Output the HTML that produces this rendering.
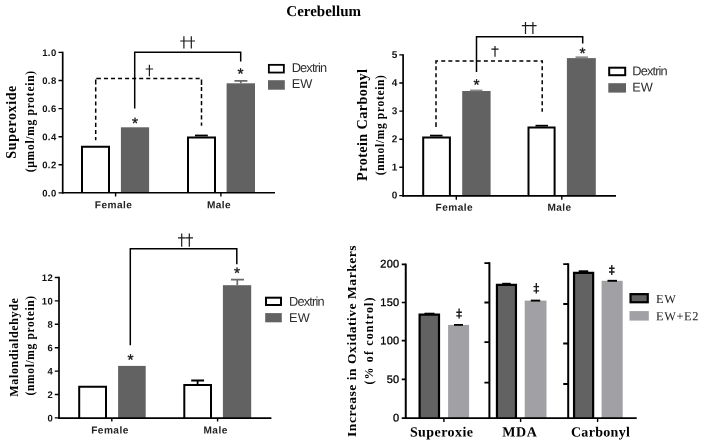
<!DOCTYPE html>
<html>
<head>
<meta charset="utf-8">
<title>Cerebellum</title>
<style>
  html, body { margin: 0; padding: 0; background: #ffffff; }
  body { width: 704px; height: 446px; overflow: hidden; font-family: "Liberation Sans", sans-serif; }
  svg { display: block; will-change: transform; }
  .sans  { font-family: "Liberation Sans", sans-serif; }
  .serif { font-family: "Liberation Serif", serif; }
  .tick  { font-family: "Liberation Sans", sans-serif; font-weight: bold; font-size: 9.5px; fill: #111; letter-spacing: 0.4px; }
  .cat   { font-family: "Liberation Sans", sans-serif; font-weight: bold; font-size: 10.1px; fill: #222; letter-spacing: 0.45px; }
  .leg   { font-family: "Liberation Sans", sans-serif; font-size: 12.8px; fill: #2e2e2e; }
  .dag   { font-family: "Liberation Sans", sans-serif; font-size: 12.5px; fill: #111; }
  .star  { font-family: "Liberation Sans", sans-serif; font-size: 15.5px; fill: #111; stroke: #111; stroke-width: 0.3; }
  .dg    { stroke: #1a1a1a; stroke-width: 1.2; fill: none; }
  .ylab  { font-family: "Liberation Serif", serif; font-weight: bold; fill: #000; }
  .ax    { stroke: #000; stroke-width: 1.7; fill: none; }
  .tk    { stroke: #000; stroke-width: 1.4; fill: none; }
  .wb    { fill: #fff; stroke: #000; stroke-width: 2; }
  .gb    { fill: #626262; stroke: none; }
  .db    { fill: #626262; stroke: #000; stroke-width: 2.2; }
  .lb    { fill: #a1a1a5; stroke: none; }
  .t4    { font-family: "Liberation Sans", sans-serif; font-size: 11px; fill: #000; letter-spacing: 0.2px; stroke: #000; stroke-width: 0.3px; }
  .sol   { stroke: #000; stroke-width: 1.5; fill: none; }
  .dsh   { stroke: #000; stroke-width: 1.3; fill: none; stroke-dasharray: 3.3 2.2; }
  .dsx   { stroke: #000; stroke-width: 1.5; fill: none; }
  .eb    { stroke: #000; stroke-width: 1.4; fill: none; }
  .ebg   { stroke: #6a6a6a; stroke-width: 1.7; fill: none; }
</style>
</head>
<body>
<svg width="704" height="446" viewBox="0 0 704 446">
  <rect x="0" y="0" width="704" height="446" fill="#ffffff"/>

  <!-- ===== Title ===== -->
  <text class="serif" x="323.7" y="16.1" text-anchor="middle" font-weight="bold" style="fill:#000;font-size:15px" transform="rotate(0.03 323.7 16.1)">Cerebellum</text>

  <!-- ===== Panel 1 : Superoxide ===== -->
  <g id="p1">
    <text class="ylab" text-anchor="middle" textLength="73" lengthAdjust="spacing" transform="translate(15.8,122.2) rotate(-90)" style="font-size:14px">Superoxide</text>
    <text class="ylab" text-anchor="middle" textLength="101.5" lengthAdjust="spacing" transform="translate(34.2,121.6) rotate(-90)" style="font-size:11.5px">(µmol/mg protein)</text>
    <!-- axes -->
    <text class="tick" x="56.6" y="55.9" text-anchor="end" transform="rotate(0.03 56.6 55.9)">1.0</text>
    <text class="tick" x="56.6" y="84" text-anchor="end" transform="rotate(0.03 56.6 84)">0.8</text>
    <text class="tick" x="56.6" y="112.1" text-anchor="end" transform="rotate(0.03 56.6 112.1)">0.6</text>
    <text class="tick" x="56.6" y="140.2" text-anchor="end" transform="rotate(0.03 56.6 140.2)">0.4</text>
    <text class="tick" x="56.6" y="168.3" text-anchor="end" transform="rotate(0.03 56.6 168.3)">0.2</text>
    <text class="tick" x="56.6" y="196.4" text-anchor="end" transform="rotate(0.03 56.6 196.4)">0.0</text>
    <text class="cat" x="113.6" y="208.2" text-anchor="middle" transform="rotate(0.03 113.6 208.2)">Female</text>
    <text class="cat" x="219" y="208.2" text-anchor="middle" transform="rotate(0.03 219 208.2)">Male</text>
    <!-- bars -->
    <rect class="gb" x="120.9" y="127.3" width="28.2" height="65.6"/>
    <rect class="gb" x="226.6" y="83.3" width="28.4" height="109.6"/>
    <path class="ebg" d="M240.8,83.3 V80.8 M234.4,80.8 H247.4"/>
    <path class="wb" d="M82,192.9 V146.8 H109 V192.9"/>
    <path class="wb" d="M188,192.9 V137.4 H215 V192.9"/>
    <path class="eb" d="M195,135.5 H207.8" style="stroke-width:1.8"/>
    <!-- brackets -->
    <path class="sol" d="M134.7,108.4 V52.2 H240.7 V61.5"/>
    <path class="dsx" d="M96.30,78.5 H100.90 M103.95,78.5 H107.95 M111.00,78.5 H115.00 M118.05,78.5 H122.05 M125.10,78.5 H129.10 M132.15,78.5 H136.15 M139.20,78.5 H143.20 M146.25,78.5 H150.25 M153.30,78.5 H157.30 M160.35,78.5 H164.35 M167.40,78.5 H171.40 M174.45,78.5 H178.45 M181.50,78.5 H185.50 M188.55,78.5 H192.55 M195.60,78.5 H199.60 M201.5,79.50 V85.00 M201.5,86.90 V91.10 M201.5,94.00 V98.20 M201.5,101.10 V105.30 M201.5,108.20 V112.40 M201.5,115.30 V119.50 M201.5,122.40 V125.70 M95.7,79.40 V84.40 M95.7,87.30 V91.40 M95.7,94.40 V98.50 M95.7,101.50 V105.60 M95.7,108.60 V112.70 M95.7,115.70 V119.80 M95.7,122.80 V126.90 M95.7,129.90 V134.00 M95.7,137.00 V140.30"/>
    <path class="dg" d="M183.9,36.3 V48.5 M180.2,41.0 H187.6 M191.3,36.3 V48.5 M187.6,41.0 H195.0"/>
    <path class="dg" d="M149.4,64.7 V76.3 M145.7,69.0 H153.1"/>
    <text class="star" x="135" y="128.5" text-anchor="middle" transform="rotate(0.03 135 128.5)">*</text>
    <text class="star" x="240.6" y="78.9" text-anchor="middle" transform="rotate(0.03 240.6 78.9)">*</text>
    <!-- legend -->
    <rect class="wb" x="268.85" y="64.85" width="15" height="7.7" style="stroke-width:1.8"/>
    <rect class="gb" x="268" y="80.2" width="16.8" height="9.5"/>
    <text class="leg" x="291.7" y="72" textLength="35.4" lengthAdjust="spacing" transform="rotate(0.03 291.7 72)">Dextrin</text>
    <text class="leg" x="291.7" y="88" transform="rotate(0.03 291.7 88)">EW</text>
    <path class="ax" d="M62.7,51.7 V193.6"/>
    <path class="ax" d="M62,192.7 H275" style="stroke-width:1.6"/>
    <path class="tk" d="M58.5,52.4 H62.7 M58.5,80.5 H62.7 M58.5,108.6 H62.7 M58.5,136.7 H62.7 M58.5,164.8 H62.7 M58.5,192.9 H62.7"/>
    <path class="tk" d="M115.6,192.9 V196.4 M220.9,192.9 V196.4"/>
  </g>

  <!-- ===== Panel 2 : Protein Carbonyl ===== -->
  <g id="p2">
    <text class="ylab" text-anchor="middle" textLength="112" lengthAdjust="spacing" transform="translate(366.5,124.9) rotate(-90)" style="font-size:14.3px">Protein Carbonyl</text>
    <text class="ylab" text-anchor="middle" textLength="100.3" lengthAdjust="spacing" transform="translate(383.7,125.2) rotate(-90)" style="font-size:11.5px">(nmol/mg protein)</text>
    <text class="tick" style="font-size:10px" x="397.7" y="58" text-anchor="end" transform="rotate(0.03 397.7 58)">5</text>
    <text class="tick" style="font-size:10px" x="397.7" y="86.1" text-anchor="end" transform="rotate(0.03 397.7 86.1)">4</text>
    <text class="tick" style="font-size:10px" x="397.7" y="114.2" text-anchor="end" transform="rotate(0.03 397.7 114.2)">3</text>
    <text class="tick" style="font-size:10px" x="397.7" y="142.3" text-anchor="end" transform="rotate(0.03 397.7 142.3)">2</text>
    <text class="tick" style="font-size:10px" x="397.7" y="170.4" text-anchor="end" transform="rotate(0.03 397.7 170.4)">1</text>
    <text class="tick" style="font-size:10px" x="397.7" y="198.5" text-anchor="end" transform="rotate(0.03 397.7 198.5)">0</text>
    <text class="cat" x="454.3" y="210.8" text-anchor="middle" transform="rotate(0.03 454.3 210.8)">Female</text>
    <text class="cat" x="559.5" y="210.8" text-anchor="middle" transform="rotate(0.03 559.5 210.8)">Male</text>
    <rect class="gb" x="462.2" y="91" width="28.4" height="105"/>
    <rect class="gb" x="566.9" y="58.1" width="28.9" height="137.9"/>
    <path class="ebg" d="M575.5,57.2 H587.9" style="stroke:#8c8c8c"/>
    <path class="ebg" d="M470,90.4 H482.4" style="stroke:#8c8c8c"/>
    <path class="wb" d="M423.2,196 V137.4 H449.9 V196"/>
    <path class="wb" d="M528.5,196 V127.6 H554.6 V196"/>
    <path class="eb" d="M430,135.6 H442.5" style="stroke-width:1.8"/>
    <path class="eb" d="M535.5,125.7 H548" style="stroke-width:1.8"/>
    <path class="sol" d="M476.5,72 V36.8 H582.7 V43.6"/>
    <path class="dsx" d="M435.25,61 H438.10 M441.25,61 H445.25 M448.35,61 H452.35 M455.45,61 H459.45 M462.55,61 H466.55 M469.65,61 H473.65 M476.75,61 H480.75 M483.85,61 H487.85 M490.95,61 H494.95 M498.05,61 H502.05 M505.15,61 H509.15 M512.25,61 H516.25 M519.35,61 H523.35 M526.45,61 H530.45 M533.55,61 H537.55 M540.65,61 H543.00 M436,60.20 V63.75 M436,66.25 V70.15 M436,73.25 V77.15 M436,80.25 V84.15 M436,87.25 V91.15 M436,94.25 V98.15 M436,101.25 V105.15 M436,108.25 V112.15 M436,115.25 V119.15 M436,122.25 V126.90 M542.2,60.20 V63.20 M542.2,66.25 V70.15 M542.2,73.25 V77.15 M542.2,80.25 V84.15 M542.2,87.25 V91.15 M542.2,94.25 V98.15 M542.2,101.25 V105.15 M542.2,108.25 V111.80"/>
    <path class="dg" d="M525.5,21.9 V33.9 M521.8,25.7 H529.2 M532.9,21.9 V33.9 M529.2,25.7 H536.6"/>
    <path class="dg" d="M495,46 V56.7 M491.4,49.2 H498.6"/>
    <text class="star" x="476.5" y="89.9" text-anchor="middle" transform="rotate(0.03 476.5 89.9)">*</text>
    <text class="star" x="582.6" y="58.5" text-anchor="middle" transform="rotate(0.03 582.6 58.5)">*</text>
    <rect class="wb" x="609.2" y="67.7" width="16" height="7.5"/>
    <rect class="gb" x="608.3" y="83.2" width="17.7" height="9.4"/>
    <text class="leg" x="632.3" y="75.3" textLength="35.4" lengthAdjust="spacing" transform="rotate(0.03 632.3 75.3)">Dextrin</text>
    <text class="leg" x="632.3" y="91.5" transform="rotate(0.03 632.3 91.5)">EW</text>
    <path class="ax" d="M403.1,54.2 V196.8"/>
    <path class="ax" d="M402.8,195.95 H616"/>
    <path class="tk" d="M399.3,54.9 H403.1 M399.3,83 H403.1 M399.3,111.1 H403.1 M399.3,139.2 H403.1 M399.3,167.3 H403.1 M399.3,195.6 H403.1"/>
    <path class="tk" d="M456.3,195.4 V199.8 M561.8,195.4 V199.8"/>
  </g>

  <!-- ===== Panel 3 : Malondialdehyde ===== -->
  <g id="p3">
    <text class="ylab" text-anchor="middle" textLength="98.5" lengthAdjust="spacing" transform="translate(17.7,347.4) rotate(-90)" style="font-size:12px">Malondialdehyde</text>
    <text class="ylab" text-anchor="middle" textLength="99.6" lengthAdjust="spacing" transform="translate(33.7,345.6) rotate(-90)" style="font-size:11.5px">(nmol/mg protein)</text>
    <text class="tick" x="53.1" y="281" text-anchor="end" transform="rotate(0.03 53.1 281)">12</text>
    <text class="tick" x="53.1" y="304.4" text-anchor="end" transform="rotate(0.03 53.1 304.4)">10</text>
    <text class="tick" x="53.1" y="327.8" text-anchor="end" transform="rotate(0.03 53.1 327.8)">8</text>
    <text class="tick" x="53.1" y="351.2" text-anchor="end" transform="rotate(0.03 53.1 351.2)">6</text>
    <text class="tick" x="53.1" y="374.6" text-anchor="end" transform="rotate(0.03 53.1 374.6)">4</text>
    <text class="tick" x="53.1" y="398" text-anchor="end" transform="rotate(0.03 53.1 398)">2</text>
    <text class="tick" x="53.1" y="421.4" text-anchor="end" transform="rotate(0.03 53.1 421.4)">0</text>
    <text class="cat" x="110" y="433.5" text-anchor="middle" transform="rotate(0.03 110 433.5)">Female</text>
    <text class="cat" x="215.6" y="433.5" text-anchor="middle" transform="rotate(0.03 215.6 433.5)">Male</text>
    <rect class="gb" x="118.1" y="365.9" width="27.6" height="52"/>
    <rect class="gb" x="222.9" y="285.2" width="28.3" height="132.7"/>
    <path class="ebg" d="M237.3,285.2 V279.6 M231,279.6 H244"/>
    <path class="wb" d="M79.2,417.9 V386.8 H106 V417.9"/>
    <path class="wb" d="M184.3,417.9 V385 H211 V417.9"/>
    <path class="eb" d="M197.6,385 V380.5 M191.2,380.5 H204.1" style="stroke-width:1.8"/>
    <path class="sol" d="M130.3,345.3 V248.8 H236.8 V264.3"/>
    <path class="dg" d="M181.7,233.6 V246.8 M178.0,237.9 H185.4 M189.3,233.6 V246.8 M185.6,237.9 H193.0"/>
    <text class="star" x="130.5" y="364.9" text-anchor="middle" transform="rotate(0.03 130.5 364.9)">*</text>
    <text class="star" x="237" y="278.2" text-anchor="middle" transform="rotate(0.03 237 278.2)">*</text>
    <rect class="wb" x="266" y="297.7" width="15" height="7.3"/>
    <rect class="gb" x="265.2" y="313.1" width="16.6" height="9.2"/>
    <text class="leg" x="289.1" y="305.7" textLength="35.4" lengthAdjust="spacing" transform="rotate(0.03 289.1 305.7)">Dextrin</text>
    <text class="leg" x="289.1" y="322" transform="rotate(0.03 289.1 322)">EW</text>
    <path class="ax" d="M59,276.8 V418.6"/>
    <path class="ax" d="M58.3,418.1 H271.4"/>
    <path class="tk" d="M54.8,277.5 H59 M54.8,300.9 H59 M54.8,324.3 H59 M54.8,347.7 H59 M54.8,371.1 H59 M54.8,394.5 H59 M54.8,417.9 H59"/>
    <path class="tk" d="M111.8,417.9 V421.4 M217.6,417.9 V421.4"/>
  </g>

  <!-- ===== Panel 4 : Increase in Oxidative Markers ===== -->
  <g id="p4">
    <text class="ylab" text-anchor="middle" textLength="191.5" lengthAdjust="spacing" transform="translate(356,341.2) rotate(-90)" style="font-size:13.5px">Increase in Oxidative Markers</text>
    <text class="ylab" text-anchor="middle" textLength="87" lengthAdjust="spacing" transform="translate(372.6,341) rotate(-90)" style="font-size:12px">(% of control)</text>
    <!-- 4a -->
    <text class="t4" x="399.3" y="267.6" text-anchor="end" transform="rotate(0.03 399.3 267.6)">200</text>
    <text class="t4" x="399.3" y="306" text-anchor="end" transform="rotate(0.03 399.3 306)">150</text>
    <text class="t4" x="399.3" y="344.2" text-anchor="end" transform="rotate(0.03 399.3 344.2)">100</text>
    <text class="t4" x="399.3" y="382.9" text-anchor="end" transform="rotate(0.03 399.3 382.9)">50</text>
    <text class="t4" x="399.3" y="421.5" text-anchor="end" transform="rotate(0.03 399.3 421.5)">0</text>
    <path class="db" d="M419.6,418 V314.7 H439 V418"/>
    <rect class="lb" x="448.1" y="324.9" width="21" height="93.1"/>
    <path class="eb" d="M424.5,313.6 H434.5" style="stroke-width:1.8"/>
    <path class="eb" d="M454,324.9 H463" style="stroke-width:1.8"/>
    <!-- 4b -->
    <path class="db" d="M496.95,418 V284.95 H515.95 V418"/>
    <rect class="lb" x="524.7" y="300.6" width="21.8" height="117.4"/>
    <path class="eb" d="M502.2,283.8 H510.7" style="stroke-width:2"/>
    <path class="eb" d="M530.8,300.6 H540.2" style="stroke-width:1.9"/>
    <!-- 4c -->
    <path class="db" d="M574.05,418 V272.95 H593.15 V418"/>
    <rect class="lb" x="601.6" y="280.8" width="21.1" height="137.2"/>
    <path class="eb" d="M578.7,271.3 H588.2" style="stroke-width:2"/>
    <path class="eb" d="M607.5,280.8 H617" style="stroke-width:1.9"/>
    <!-- double daggers -->
    <path class="dg" d="M459.1,308.6 V318.5 M456.3,312.2 H461.9 M456.3,315.9 H461.9" style="stroke-width:1.35"/>
    <path class="dg" d="M536.3,283 V293.4 M533.5,286.6 H539.1 M533.5,290.9 H539.1" style="stroke-width:1.35"/>
    <path class="dg" d="M611.8,265 V275.1 M609,268.2 H614.6 M609,272 H614.6" style="stroke-width:1.35"/>
    <!-- x labels -->
    <text class="ylab" x="409.9" y="436.5" textLength="63" lengthAdjust="spacing" style="font-size:14px" transform="rotate(0.03 409.9 436.5)">Superoxie</text>
    <text class="ylab" x="502.3" y="436.5" textLength="34.6" lengthAdjust="spacing" style="font-size:14px" transform="rotate(0.03 502.3 436.5)">MDA</text>
    <text class="ylab" x="570.9" y="436.5" textLength="59" lengthAdjust="spacing" style="font-size:14px" transform="rotate(0.03 570.9 436.5)">Carbonyl</text>
    <!-- legend -->
    <rect class="db" x="630.55" y="294.15" width="17.2" height="8.1"/>
    <rect class="lb" x="629.5" y="311.1" width="19.3" height="9.5"/>
    <text class="serif" x="656" y="303" style="fill:#222;font-size:12.4px;letter-spacing:0.6px" transform="rotate(0.03 656 303)">EW</text>
    <text class="serif" x="656" y="320.3" style="fill:#222;font-size:12.4px;letter-spacing:0.6px" transform="rotate(0.03 656 320.3)">EW+E2</text>
    <path class="ax" d="M405.75,263.6 V418.6" style="stroke-width:2"/>
    <path class="ax" d="M401.75,418.1 H636.7" style="stroke-width:1.6"/>
    <path class="tk" d="M401.75,264.4 H405.75 M401.75,302.5 H405.75 M401.75,340.6 H405.75 M401.75,379.4 H405.75" style="stroke-width:1.7"/>
    <path class="tk" d="M443.9,418 V422 M520.6,418 V422 M597.6,418 V422"/>
    <path class="ax" d="M489.4,262.2 V418.7" style="stroke-width:2"/>
    <path class="tk" style="stroke-width:1.8" d="M484.4,263.1 H489.4 M484.4,302.5 H489.4 M484.4,342.1 H489.4 M484.4,382.7 H489.4"/>
    <path class="ax" d="M568.2,263.3 V418.7" style="stroke-width:2"/>
    <path class="tk" style="stroke-width:1.8" d="M563.2,264.2 H568.2 M563.2,304 H568.2 M563.2,343.5 H568.2 M563.2,384 H568.2"/>
  </g>
</svg>
</body>
</html>
